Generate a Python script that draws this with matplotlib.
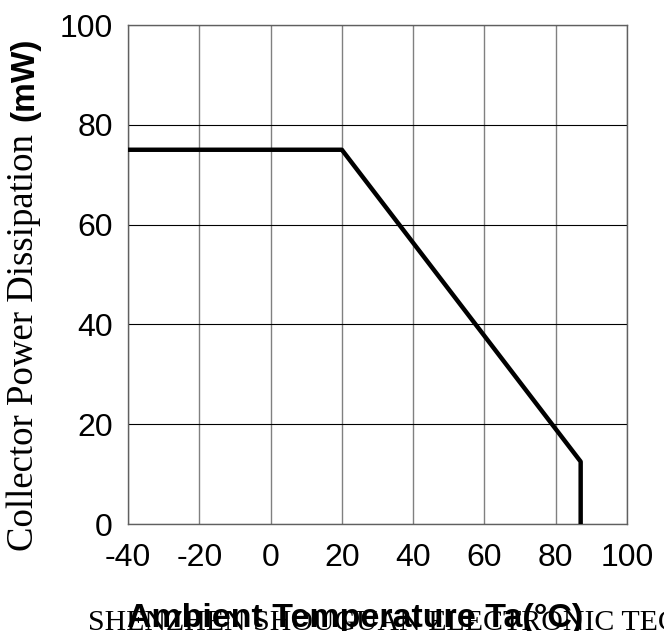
import matplotlib.pyplot as plt

plt.rcParams['axes.unicode_minus'] = False

# curve: derating of collector power dissipation
temp = [-40, 20, 87, 87]
power = [75, 75, 12.5, 0]

x_ticks = [-40, -20, 0, 20, 40, 60, 80, 100]
y_ticks = [0, 20, 40, 60, 80, 100]

W, H = 664, 631
fig = plt.figure(figsize=(W / 100, H / 100), dpi=100)
ax = fig.add_axes([128 / W, 1 - 524 / H, 499 / W, 499 / H])

for x in x_ticks:
    ax.axvline(x, color='#808080', lw=1, zorder=1)
for y in y_ticks:
    ax.axhline(y, color='black', lw=0.8, zorder=1)

ax.plot(temp, power, color='black', lw=3.2, solid_capstyle='round', zorder=3)

ax.set_xlim(-40, 100)
ax.set_ylim(0, 100)
ax.set_xticks(x_ticks)
ax.set_yticks(y_ticks)
ax.tick_params(length=0, labelsize=23)
ax.tick_params(axis='x', pad=14)
ax.tick_params(axis='y', pad=11)
for lab in ax.get_xticklabels() + ax.get_yticklabels():
    lab.set_family('Liberation Sans')
for s in ax.spines.values():
    s.set_color('#606060')
    s.set_linewidth(1)

# y label in two fonts
fig.text(24 / W, 1 - 343 / H, 'Collector Power Dissipation', rotation=90,
         family='Liberation Serif', fontsize=26.5, ha='center', va='center')
fig.text(25 / W, 1 - 79 / H, '(mW)', rotation=90,
         family='Liberation Sans', fontweight='bold', fontsize=24,
         ha='center', va='center')

# overlapping footer text and x label
fig.text(88 / W, 1 - 630 / H, 'SHENZHEN SHOUGUAN ELECTRONIC TECHNOLOGY',
         family='Liberation Serif', fontsize=21.5, ha='left', va='baseline')
fig.text(355 / W, 1 - 627 / H, 'Ambient Temperature Ta(°C)',
         family='Liberation Sans', fontweight='bold', fontsize=24.5,
         ha='center', va='baseline')

fig.savefig('out.png', dpi=100)
